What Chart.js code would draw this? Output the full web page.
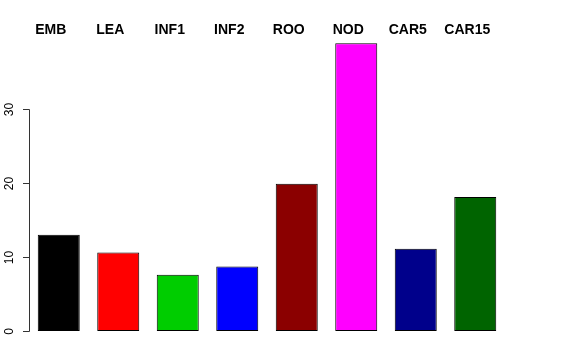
<!DOCTYPE html>
<html>
<head>
<meta charset="utf-8">
<script src="https://cdn.jsdelivr.net/npm/chart.js@4/dist/chart.umd.min.js"></script>
<style>
html,body{margin:0;padding:0;background:#fff;}
#wrap{width:576px;height:360px;position:relative;}
</style>
</head>
<body>
<div id="wrap"><canvas id="c" width="576" height="360"></canvas></div>
<script>
const categories = ["EMB", "LEA", "INF1", "INF2", "ROO", "NOD", "CAR5", "CAR15"];
const values = [13.0, 10.6, 7.6, 8.7, 19.9, 38.9, 11.1, 18.1];
const yTicks = [0, 10, 20, 30];
const barColors = ["#000000", "#FF0000", "#00CD00", "#0000FF", "#8B0000", "#FF00FF", "#00008B", "#006400"];

const rAxisPlugin = {
  id: 'rAxis',
  afterDraw(chart) {
    const ctx = chart.ctx;
    const ys = chart.scales.y;
    const xs = chart.scales.x;
    const left = chart.chartArea.left;
    ctx.save();
    // y axis line from first to last tick
    ctx.strokeStyle = '#333';
    ctx.lineWidth = 1;
    const y0 = Math.round(ys.getPixelForValue(yTicks[0])) + 0.5;
    const y1 = Math.round(ys.getPixelForValue(yTicks[yTicks.length - 1])) + 0.5;
    ctx.beginPath();
    ctx.moveTo(left + 0.5, y0);
    ctx.lineTo(left + 0.5, y1);
    ctx.stroke();
    ctx.fillStyle = '#000';
    ctx.font = '12px "Liberation Sans", Arial, sans-serif';
    ctx.textAlign = 'center';
    ctx.textBaseline = 'middle';
    yTicks.forEach(v => {
      const py = Math.round(ys.getPixelForValue(v)) + 0.5;
      ctx.beginPath();
      ctx.moveTo(left + 0.5, py);
      ctx.lineTo(left - 6, py);
      ctx.stroke();
      ctx.save();
      ctx.translate(10, py);
      ctx.rotate(-Math.PI / 2);
      ctx.fillText(String(v), 0, 0);
      ctx.restore();
    });
    // category labels at top
    ctx.font = 'bold 14px "Liberation Sans", Arial, sans-serif';
    categories.forEach((c, i) => {
      const px = xs.getPixelForValue(i) - 8;
      ctx.fillText(c, px, 30);
    });
    ctx.restore();
  }
};

new Chart(document.getElementById('c'), {
  type: 'bar',
  data: {
    labels: categories,
    datasets: [{
      data: values,
      backgroundColor: barColors,
      borderColor: '#000',
      borderWidth: 1,
      borderSkipped: false,
      categoryPercentage: 1.0,
      barPercentage: 0.706
    }]
  },
  options: {
    responsive: false,
    animation: false,
    devicePixelRatio: 1,
    layout: { padding: { left: 29, right: 71, top: 35, bottom: 29 } },
    plugins: { legend: { display: false }, tooltip: { enabled: false } },
    scales: {
      x: { display: false },
      y: { display: false, min: 0, max: 40 }
    }
  },
  plugins: [rAxisPlugin]
});
</script>
</body>
</html>
